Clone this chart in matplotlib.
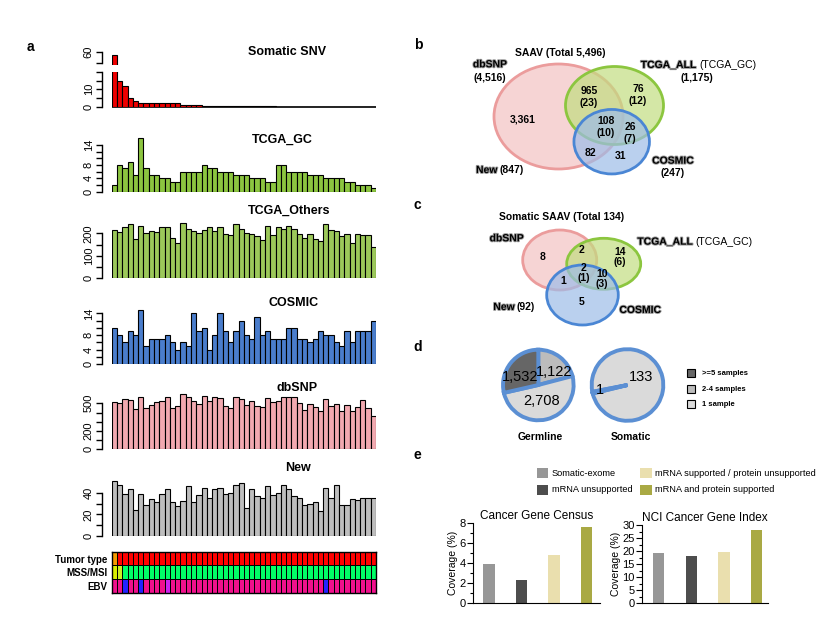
"""
Multi-panel SAAV figure: per-sample bars (a), Venn diagrams (b, c),
pies (d) and cancer-gene coverage bars (e).
"""
import numpy as np
import matplotlib
matplotlib.use("Agg")
import matplotlib.pyplot as plt
from matplotlib.patches import Ellipse, Rectangle
from matplotlib.colors import ListedColormap
import matplotlib.patheffects as pe

plt.rcParams["font.family"] = ["Liberation Sans", "DejaVu Sans"]

W, H = 830, 624

# ---- panel a data (50 samples) ----
somatic_snv = [57, 15, 12, 5, 3, 2, 2, 2, 2, 2, 2, 2, 2, 1, 1, 1, 1,
               0.3, 0.3, 0.3, 0.3, 0.3, 0.3, 0.3, 0.3, 0.3, 0.3, 0.3, 0.3, 0.3, 0.3,
               0, 0, 0, 0, 0, 0, 0, 0, 0, 0, 0, 0, 0, 0, 0, 0, 0, 0, 0]
tcga_gc = [2, 8, 7, 9, 5, 16, 7, 5, 5, 4, 4, 3, 3, 6, 6, 6, 6, 8, 7, 7,
           6, 6, 6, 5, 5, 5, 4, 4, 4, 3, 3, 8, 8, 6, 6, 6, 6, 5, 5, 5,
           4, 4, 4, 4, 3, 3, 2, 2, 2, 1]
tcga_others = [215, 204, 227, 240, 173, 232, 200, 210, 204, 227,
               227, 178, 155, 244, 219, 210, 200, 215, 227, 210,
               227, 196, 193, 240, 219, 200, 196, 188, 170, 232,
               193, 227, 219, 232, 219, 196, 181, 196, 176, 166,
               240, 215, 210, 188, 196, 155, 196, 193, 193, 138]
cosmic = [10, 8, 6, 9, 8, 15, 5, 7, 7, 7, 8, 6, 4, 6, 5, 14, 9, 10, 4, 8,
          14, 9, 6, 9, 12, 8, 7, 13, 8, 9, 7, 7, 7, 10, 10, 7, 7, 6, 7, 9,
          8, 8, 6, 5, 9, 6, 9, 9, 9, 12]
dbsnp = [514, 504, 546, 536, 439, 564, 450, 482, 514, 525,
         564, 450, 471, 600, 564, 525, 493, 579, 525, 564,
         557, 471, 450, 564, 546, 482, 525, 471, 461, 557,
         514, 525, 564, 564, 564, 504, 429, 493, 461, 418,
         546, 471, 493, 418, 482, 418, 461, 536, 450, 364]
new = [51, 47, 39, 43, 24, 39, 29, 34, 31, 39, 43, 31, 28, 32, 46, 31, 38, 44, 35, 43,
       44, 39, 40, 47, 49, 26, 43, 37, 35, 46, 38, 40, 47, 43, 37, 35, 29, 30, 31, 23,
       44, 35, 47, 29, 29, 34, 33, 35, 35, 35]

# annotation tracks (category codes per sample)
tumor_type = [1] + [0] * 49
mss_msi = [2, 1] + [0] * 48
ebv = [0, 0, 1, 0, 0, 1, 0, 0, 0, 0, 2, 0, 0, 0, 0, 0, 0, 0, 0, 0,
       0, 0, 0, 0, 0, 0, 0, 0, 0, 0, 0, 0, 0, 0, 0, 0, 0, 0, 0, 0,
       1, 0, 0, 0, 0, 0, 0, 0, 0, 0]
track_names = ["Tumor type", "MSS/MSI", "EBV"]

# ---- panel b / c venn labels ----
b_counts = ["3,361", "965\n(23)", "76\n(12)", "108\n(10)", "26\n(7)", "82", "31"]
c_counts = ["8", "2", "14\n(6)", "2\n(1)", "10\n(3)", "1", "5"]

# ---- panel d pies ----
germline = [1122, 2708, 1532]
somatic = [133, 1]
pie_legend = [">=5 samples", "2-4 samples", "1 sample"]

# ---- panel e ----
e_groups = ["Somatic-exome", "mRNA unsupported",
            "mRNA supported / protein unsupported", "mRNA and protein supported"]
e_colors = ["#979797", "#4d4d4d", "#eadfae", "#a9a944"]
cgc = [3.9, 2.33, 4.83, 7.65]
nci = [19.1, 18.1, 19.5, 28.2]

fig = plt.figure(figsize=(W / 100, H / 100), dpi=100)


def px_axes(x0, y0, x1, y1):
    return fig.add_axes([x0 / W, 1 - y1 / H, (x1 - x0) / W, (y1 - y0) / H])


X0, X1 = 111.7, 376.0
idx = np.arange(len(tcga_gc))


def bar_panel(vals, color, base, scale, ymin, ymax, ticks, labels):
    top = base - (ymax - ymin) * scale
    ax = px_axes(X0, top, X1, base)
    ax.bar(idx, vals, width=1, align="edge", color=color, edgecolor="black", lw=0.8)
    ax.set_xlim(0, len(vals))
    ax.set_ylim(ymin, ymax)
    for s in ["top", "right", "bottom"]:
        ax.spines[s].set_visible(False)
    ax.spines["left"].set_position(("outward", 7))
    ax.spines["left"].set_bounds(ticks[0], ticks[-1])
    ax.spines["left"].set_linewidth(1)
    ax.set_xticks([])
    ax.set_yticks(ticks)
    ax.set_yticklabels(labels)
    ax.tick_params(axis="y", length=4, width=1, labelsize=8, pad=2)
    for lab in ax.get_yticklabels():
        lab.set_rotation(90)
        lab.set_va("center")
    ax.patch.set_visible(False)
    return ax


# Somatic SNV (broken axis)
bar_panel(somatic_snv, "#ee0000", 65.0, 1.1, 48, 62, [50, 60], ["", "60"])
snv_low = bar_panel(somatic_snv, "#ee0000", 106.7, 1.74, 0, 20, [0, 5, 10, 15, 20],
                    ["0", "", "10", "", ""])
# zero-height bars still leave their outline on the baseline
snv_low.hlines(0, 0, len(somatic_snv), color="black", lw=1.2, clip_on=False, zorder=0.5)

bar_panel(tcga_gc, "#8cc540", 191.7, 3.336, 0, 16.5, [0, 2, 4, 6, 8, 10, 12, 14],
          ["0", "", "4", "", "8", "", "", "14"])
bar_panel(tcga_others, "#9cc85a", 278.3, 0.225, 0, 250, [0, 50, 100, 150, 200],
          ["0", "", "100", "", "200"])
bar_panel(cosmic, "#4a7dcc", 364.0, 3.62, 0, 16, [0, 2, 4, 6, 8, 10, 12, 14],
          ["0", "", "4", "", "8", "", "", "14"])
bar_panel(dbsnp, "#f2a9b0", 449.3, 0.092, 0, 620, [0, 100, 200, 300, 400, 500],
          ["0", "", "200", "", "", "500"])
bar_panel(new, "#bebebe", 536.0, 1.083, 0, 52, [0, 10, 20, 30, 40],
          ["0", "", "20", "", "40"])

titles = [("Somatic SNV", 287, 52), ("TCGA_GC", 282, 140), ("TCGA_Others", 289, 211),
          ("COSMIC", 294, 303), ("dbSNP", 297, 388), ("New", 298, 468)]
for t, x, y in titles:
    fig.text(x / W, 1 - y / H, t, ha="center", va="center", fontsize=9, fontweight="bold")

# annotation tracks
tax = px_axes(X0, 551.7, X1, 592.7)
track_colors = ["#ff0000", "#f59a00", "#00ff66", "#ccee22", "#d8ef00",
                "#f0108c", "#2222ff", "#cc22ee"]
codes = np.array([[c for c in tumor_type],
                  [c + 2 if c == 0 else (3 if c == 1 else 4) for c in mss_msi],
                  [c + 5 for c in ebv]])
tax.pcolormesh(np.arange(51), np.arange(4), codes, cmap=ListedColormap(track_colors),
               vmin=-0.5, vmax=7.5, edgecolors="black", linewidth=0.6)
tax.set_xlim(0, 50)
tax.set_ylim(3, 0)
tax.set_xticks([])
tax.set_yticks([0.5, 1.5, 2.5])
tax.set_yticklabels(track_names, fontsize=7, fontweight="bold")
tax.tick_params(axis="y", length=0, pad=3)
for s in tax.spines.values():
    s.set_linewidth(1)

# panel d pies (drawn before the overlay so the labels sit on top)
pie_fill = {"dark": "#666666", "mid": "#bcbcbc", "light": "#dadada"}


def pie_axes(cx, cy, r):
    rr = r * 1.12
    return px_axes(cx - rr, cy - rr, cx + rr, cy + rr)


pa = pie_axes(538.3, 385, 35.3)
pa.pie(germline, colors=[pie_fill["mid"], pie_fill["light"], pie_fill["dark"]],
       startangle=90, counterclock=False,
       wedgeprops=dict(edgecolor="#5b8fd3", linewidth=2.8))
pa.set_xlim(-1.12, 1.12)
pa.set_ylim(-1.12, 1.12)

pb = pie_axes(627.5, 385, 35.8)
pb.pie(somatic, colors=[pie_fill["light"], pie_fill["mid"]],
       startangle=191, counterclock=False,
       wedgeprops=dict(edgecolor="#5b8fd3", linewidth=2.8))
pb.set_xlim(-1.12, 1.12)
pb.set_ylim(-1.12, 1.12)

# overlay for venns, labels
ov = px_axes(0, 0, W, H)
ov.set_xlim(0, W)
ov.set_ylim(H, 0)
ov.axis("off")
ov.set_zorder(10)

for lab, x, y in [("a", 30, 47), ("b", 418, 45), ("c", 417, 205), ("d", 418, 347), ("e", 417, 455)]:
    ov.text(x, y, lab, fontsize=10, fontweight="bold", ha="center", va="center")

emb = [pe.withStroke(linewidth=1.3, foreground="#9a9a9a")]


def venn(circles):
    for (cx, cy, w, h), fc, ec in zip(circles,
                                      ["#f3c3c3", "#c2dd80", "#9dbce8"],
                                      ["#eb9c9c", "#8cc63f", "#4a86d4"]):
        ov.add_patch(Ellipse((cx, cy), w, h, facecolor=fc, alpha=0.7, edgecolor="none"))
        ov.add_patch(Ellipse((cx, cy), w, h, facecolor="none", edgecolor=ec, lw=2))


# panel b
venn([(558.5, 116.5, 129, 105), (614.5, 105.5, 98, 78), (611.7, 141.7, 75.5, 64.5)])
b_pos = [(523, 119), (589, 97), (638, 95), (605.7, 126.7), (630, 133), (590, 152.7), (620.7, 156)]
for s, (x, y) in zip(b_counts, b_pos):
    ov.text(x, y, s, fontsize=7.5, fontweight="bold", ha="center", va="center", linespacing=1.2)
ov.text(560, 52.7, "SAAV (Total 5,496)", fontsize=7.5, fontweight="bold", ha="center", va="center")
ov.text(490, 64.3, "dbSNP", fontsize=7.5, fontweight="bold", ha="center", va="center", path_effects=emb)
ov.text(490, 78, "(4,516)", fontsize=7.5, fontweight="bold", ha="center", va="center")
ov.text(640.7, 65, "TCGA_ALL", fontsize=7.5, fontweight="bold", ha="left", va="center", path_effects=emb)
ov.text(699.3, 65, "(TCGA_GC)", fontsize=7.5, ha="left", va="center")
ov.text(697, 78, "(1,175)", fontsize=7.5, fontweight="bold", ha="center", va="center")
ov.text(672.7, 160.7, "COSMIC", fontsize=7.5, fontweight="bold", ha="center", va="center", path_effects=emb)
ov.text(673, 173.3, "(247)", fontsize=7.5, fontweight="bold", ha="center", va="center")
ov.text(476, 170, "New", fontsize=7.5, fontweight="bold", ha="left", va="center", path_effects=emb)
ov.text(499.3, 170, "(847)", fontsize=7.5, fontweight="bold", ha="left", va="center")

# panel c
venn([(559.7, 260, 74, 60), (603.7, 263.8, 74, 51), (582.5, 295, 71.6, 60)])
c_pos = [(542.7, 256.7), (581.7, 250), (620, 256.7), (583.3, 273.3), (601.7, 279.3),
         (563.3, 280.7), (581.7, 301.7)]
for s, (x, y) in zip(c_counts, c_pos):
    ov.text(x, y, s, fontsize=7.5, fontweight="bold", ha="center", va="center", linespacing=1.0)
ov.text(561.7, 216.7, "Somatic SAAV (Total 134)", fontsize=7.5, fontweight="bold", ha="center", va="center")
ov.text(506.7, 238.3, "dbSNP", fontsize=7.5, fontweight="bold", ha="center", va="center", path_effects=emb)
ov.text(637.3, 241.7, "TCGA_ALL", fontsize=7.5, fontweight="bold", ha="left", va="center", path_effects=emb)
ov.text(695, 241.7, "(TCGA_GC)", fontsize=7.5, ha="left", va="center")
ov.text(640, 310, "COSMIC", fontsize=7.5, fontweight="bold", ha="center", va="center", path_effects=emb)
ov.text(493.3, 307, "New", fontsize=7.5, fontweight="bold", ha="left", va="center", path_effects=emb)
ov.text(516.7, 307, "(92)", fontsize=7.5, fontweight="bold", ha="left", va="center")

# pie labels + legend
for s, x, y in [("1,532", 520, 377), ("1,122", 554, 372), ("2,708", 541.7, 401),
                ("133", 641, 377), ("1", 600, 390)]:
    ov.text(x, y, s, fontsize=10.5, ha="center", va="center", color="black")
ov.text(540, 437.3, "Germline", fontsize=7.5, fontweight="bold", ha="center", va="center")
ov.text(630.7, 437.3, "Somatic", fontsize=7.5, fontweight="bold", ha="center", va="center")
for lab, fc, y in zip(pie_legend, [pie_fill["dark"], pie_fill["mid"], pie_fill["light"]],
                      [373.3, 389.3, 404]):
    ov.add_patch(Rectangle((687, y - 4), 8, 8, facecolor=fc, edgecolor="black", lw=0.8))
    ov.text(701.7, y, lab, fontsize=5.5, fontweight="bold", ha="left", va="center")

# panel e legend
for i, (lab, col) in enumerate(zip(e_groups, e_colors)):
    lx = 536.7 if i < 2 else 640
    ly = 473.3 if i % 2 == 0 else 490
    ov.add_patch(Rectangle((lx, ly - 5), 11.5, 10, facecolor=col, edgecolor="none"))
    ov.text(lx + 15, ly, lab, fontsize=6.7, ha="left", va="center")


def cov_axes(x0, x1, top, vals, ymax, major, minor, xl, title):
    ax = px_axes(x0, top, x1, 603.3)
    xs = np.arange(len(vals))
    ax.bar(xs, vals, width=0.35, color=e_colors)
    ax.set_xlim(*xl)
    ax.set_ylim(0, ymax)
    ax.set_yticks(np.arange(0, ymax + 0.01, major))
    ax.set_yticks(np.arange(0, ymax + 0.01, minor), minor=True)
    ax.set_xticks([])
    ax.spines["top"].set_visible(False)
    ax.spines["right"].set_visible(False)
    ax.spines["left"].set_linewidth(0.8)
    ax.spines["bottom"].set_linewidth(0.8)
    ax.tick_params(axis="y", which="major", length=4, width=0.8, labelsize=8, pad=1.5)
    ax.tick_params(axis="y", which="minor", length=2, width=0.8)
    ax.set_ylabel("Coverage (%)", fontsize=7.5, labelpad=1)
    ax.set_title(title, fontsize=8.5, pad=3)
    ax.patch.set_visible(False)
    return ax


cov_axes(473.3, 600, 523.3, cgc, 8, 2, 1, (-0.48, 3.42), "Cancer Gene Census")
cov_axes(642.3, 768, 525, nci, 30, 5, 2.5, (-0.5, 3.35), "NCI Cancer Gene Index")

fig.savefig("out.png", dpi=100)
